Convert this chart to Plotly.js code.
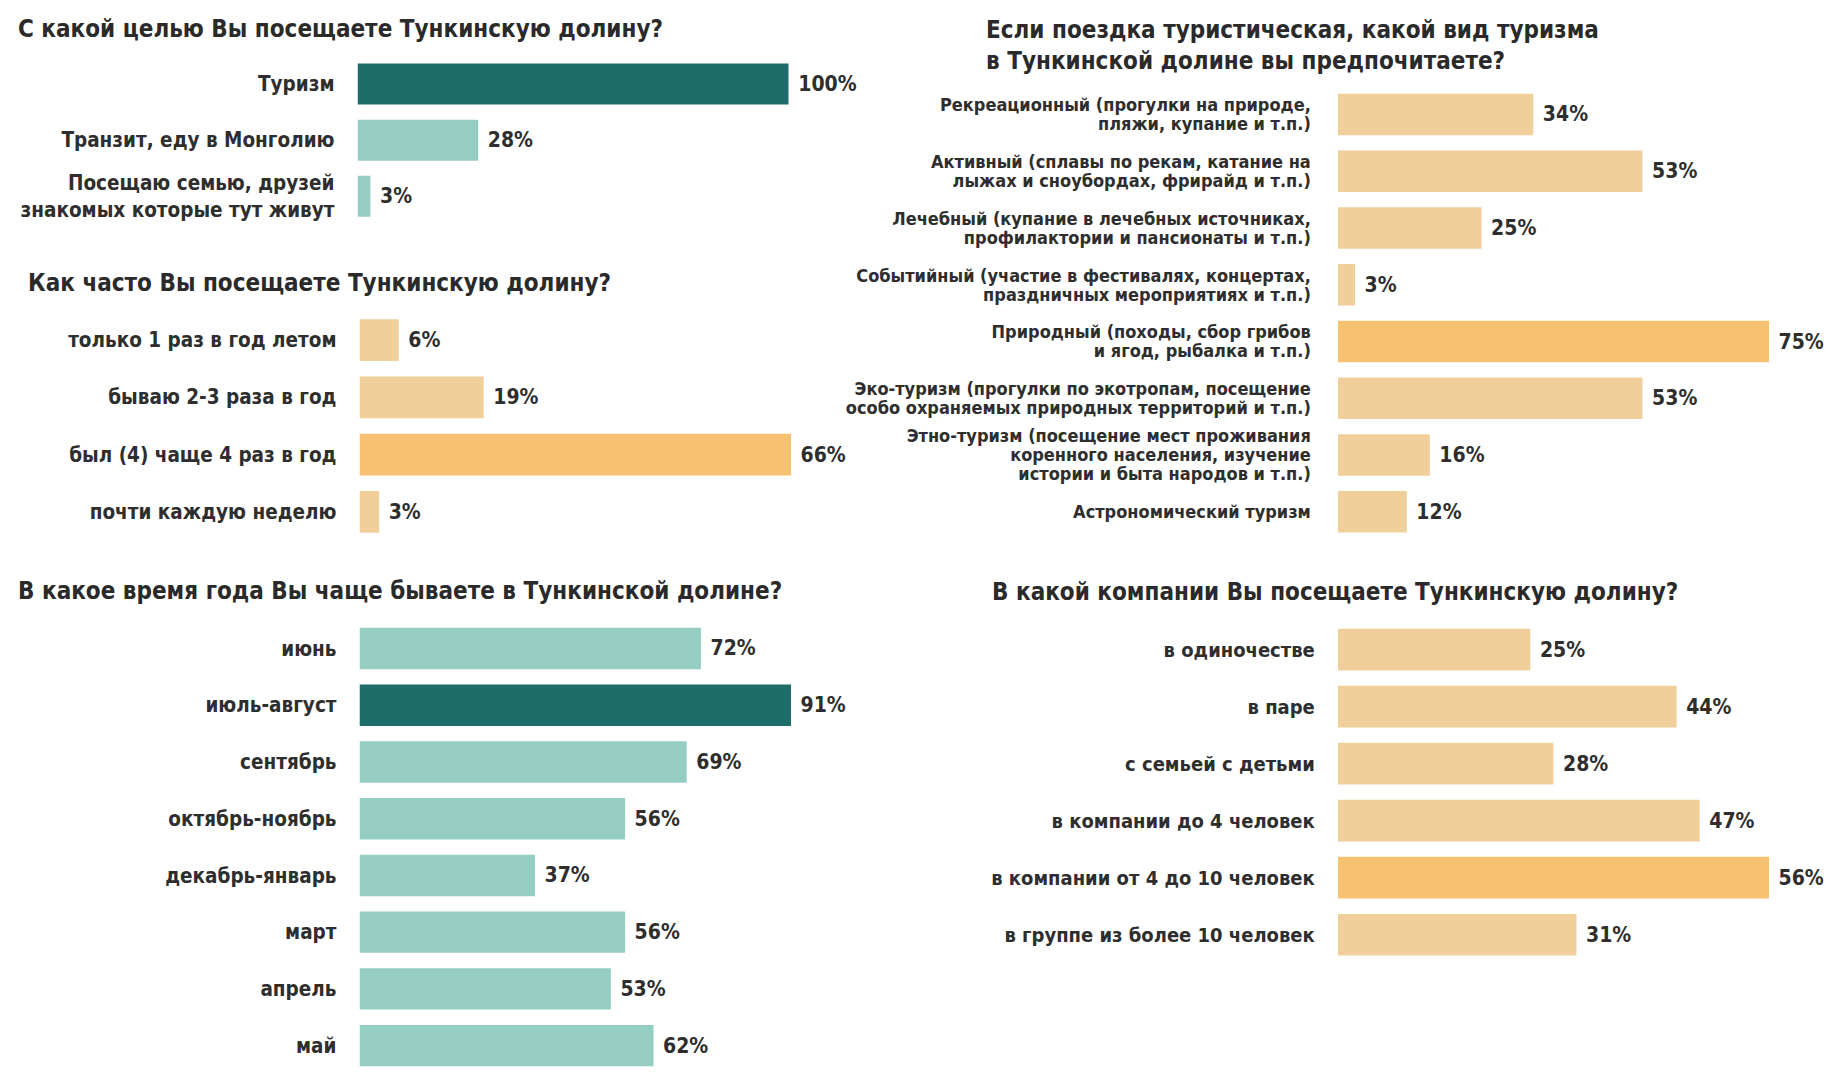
<!DOCTYPE html>
<html>
<head>
<meta charset="utf-8">
<script src="https://cdn.plot.ly/plotly-3.0.1.min.js"></script>
<style>
  html, body { margin: 0; padding: 0; background: #ffffff; }
  #chart { width: 1832px; height: 1074px; }
</style>
</head>
<body>
<div id="chart"></div>
<script>
// ---- Data ----
const purposeLabels = ['Туризм', 'Транзит, еду в Монголию', 'Посещаю семью, друзей<br>знакомых которые тут живут'];
const purposeValues = [100, 28, 3];

const freqLabels = ['только 1 раз в год летом', 'бываю 2-3 раза в год', 'был (4) чаще 4 раз в год', 'почти каждую неделю'];
const freqValues = [6, 19, 66, 3];

const seasonLabels = ['июнь', 'июль-август', 'сентябрь', 'октябрь-ноябрь', 'декабрь-январь', 'март', 'апрель', 'май'];
const seasonValues = [72, 91, 69, 56, 37, 56, 53, 62];

const typeLabels = [
  'Рекреационный (прогулки на природе,<br>пляжи, купание и т.п.)',
  'Активный (сплавы по рекам, катание на<br>лыжах и сноубордах, фрирайд и т.п.)',
  'Лечебный (купание в лечебных источниках,<br>профилактории и пансионаты и т.п.)',
  'Событийный (участие в фестивалях, концертах,<br>праздничных мероприятиях и т.п.)',
  'Природный (походы, сбор грибов<br>и ягод, рыбалка и т.п.)',
  'Эко-туризм (прогулки по экотропам, посещение<br>особо охраняемых природных территорий и т.п.)',
  'Этно-туризм (посещение мест проживания<br>коренного населения, изучение<br>истории и быта народов и т.п.)',
  'Астрономический туризм'
];
const typeValues = [34, 53, 25, 3, 75, 53, 16, 12];

const companyLabels = ['в одиночестве', 'в паре', 'с семьей с детьми', 'в компании до 4 человек', 'в компании от 4 до 10 человек', 'в группе из более 10 человек'];
const companyValues = [25, 44, 28, 47, 56, 31];

const titles = {
  purpose: 'С какой целью Вы посещаете Тункинскую долину?',
  freq: 'Как часто Вы посещаете Тункинскую долину?',
  season: 'В какое время года Вы чаще бываете в Тункинской долине?',
  type: 'Если поездка туристическая, какой вид туризма<br>в Тункинской долине вы предпочитаете?',
  company: 'В какой компании Вы посещаете Тункинскую долину?'
};

// ---- Styling ----
const W = 1832, H = 1074;
const FONT = '"DejaVu Sans Condensed", "Liberation Sans Narrow", "Roboto Condensed", "Arial Narrow", "Liberation Sans", sans-serif';
const TEXT = '#2e2e2e';
const DARK_TEAL = '#1f6d6b', LIGHT_TEAL = '#95cdc3', TAN = '#f0cf9b', ORANGE = '#f7c172';

function px2x(p) { return p / W; }
function px2y(p) { return 1 - p / H; }

function makeTrace(labels, values, base, hi, n) {
  const mx = Math.max(...values);
  return {
    type: 'bar', orientation: 'h',
    x: values, y: labels,
    xaxis: 'x' + (n === 1 ? '' : n), yaxis: 'y' + (n === 1 ? '' : n),
    marker: { color: values.map(v => v === mx ? hi : base), line: { width: 0 } },
    width: 0.73,
    text: values.map(v => '\u00a0' + v + '%'),
    textposition: 'outside', textfont: { family: FONT, size: 21, color: TEXT, weight: 'bold' },
    cliponaxis: false, constraintext: 'none',
    hoverinfo: 'skip', showlegend: false
  };
}

const panels = [
  { labels: purposeLabels, values: purposeValues, base: LIGHT_TEAL, hi: DARK_TEAL, xd: [357.5, 788.7], yd: [56.0, 224.4], fs: 20.5, so: 22 },
  { labels: freqLabels, values: freqValues, base: TAN, hi: ORANGE, xd: [359.5, 791.0], yd: [311.4, 540.4], fs: 20.5, so: 22 },
  { labels: seasonLabels, values: seasonValues, base: LIGHT_TEAL, hi: DARK_TEAL, xd: [359.5, 791.0], yd: [620.1, 1074], fs: 20.5, so: 22 },
  { labels: typeLabels, values: typeValues, base: TAN, hi: ORANGE, xd: [1337.8, 1769.0], yd: [86.1, 540.2], fs: 18, so: 26 },
  { labels: companyLabels, values: companyValues, base: TAN, hi: ORANGE, xd: [1337.8, 1769.0], yd: [621.1, 963.2], fs: 20, so: 22 }
];

const data = [];
const layout = {
  width: W, height: H,
  margin: { l: 0, r: 0, t: 0, b: 0 },
  paper_bgcolor: '#ffffff', plot_bgcolor: '#ffffff',
  font: { family: FONT, color: TEXT },
  bargap: 0.27,
  annotations: []
};

panels.forEach((p, i) => {
  const n = i + 1;
  data.push(makeTrace(p.labels, p.values, p.base, p.hi, n));
  const suf = n === 1 ? '' : n;
  const mx = Math.max(...p.values);
  layout['xaxis' + suf] = {
    domain: [px2x(p.xd[0]), px2x(p.xd[1])],
    range: [0, mx], visible: false, fixedrange: true,
    anchor: 'y' + suf
  };
  layout['yaxis' + suf] = {
    domain: [px2y(p.yd[1]), px2y(p.yd[0])],
    type: 'category', categoryorder: 'array', categoryarray: p.labels,
    range: [p.labels.length - 0.5, -0.5],
    showgrid: false, zeroline: false, showline: false,
    ticks: '', ticklabelstandoff: p.so,
    tickfont: { family: FONT, size: p.fs, color: TEXT, weight: 'bold' },
    automargin: false, fixedrange: true,
    anchor: 'x' + suf
  };
});

function addTitle(text, xpx, ypx) {
  layout.annotations.push({
    text: text, xref: 'paper', yref: 'paper',
    x: px2x(xpx), y: px2y(ypx), xanchor: 'left', yanchor: 'middle', align: 'left',
    showarrow: false, font: { family: FONT, size: 24, color: '#2a2a2a', weight: 'bold' }
  });
}
addTitle(titles.purpose, 16, 29);
addTitle(titles.freq, 26, 283);
addTitle(titles.season, 16, 591);
addTitle(titles.type, 984, 45);
addTitle(titles.company, 990, 592);

Plotly.newPlot('chart', data, layout, { staticPlot: true, displayModeBar: false }).then(function (gd) {
  // tighter line spacing for the multi-line labels of the tourism-type panel
  const S = 1.05, BASE = 1.3;
  gd.querySelectorAll('g.y4tick text').forEach(function (t) {
    const lines = t.querySelectorAll('tspan.line');
    const n = lines.length;
    if (n < 2) return;
    const shift = (n - 1) * (BASE - S) / 2;
    lines.forEach(function (ln, i) {
      ln.setAttribute('dy', (shift + i * S) + 'em');
    });
  });
});
</script>
</body>
</html>
